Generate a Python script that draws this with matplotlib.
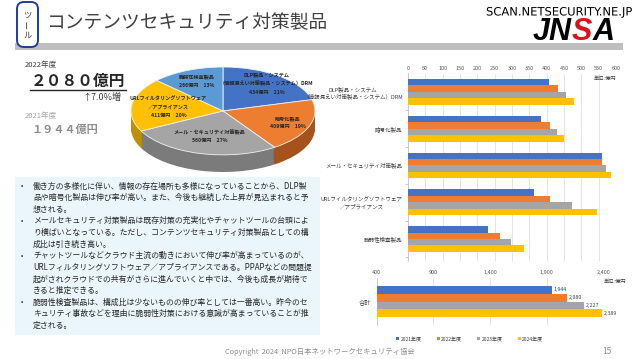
import matplotlib
matplotlib.use("Agg")
import matplotlib.pyplot as plt
import matplotlib.patheffects as pe
from matplotlib.patches import Rectangle, FancyBboxPatch
import numpy as np

plt.rcParams['font.family'] = ['Noto Sans CJK JP', 'DejaVu Sans']

# --- data ---
pie_labels = ["DLP製品・システム\n（情報漏えい対策製品・システム）DRM",
              "暗号化製品",
              "メール・セキュリティ対策製品",
              "URLフィルタリングソフトウェア\n／アプライアンス",
              "脆弱性検査製品"]
pie_values = [434, 409, 560, 411, 266]
pie_pct = ["21%", "19%", "27%", "20%", "13%"]
pie_colors = ["#4472C4", "#ED7D31", "#A5A5A5", "#FFC000", "#5B9BD5"]
pie_side = ["#2F5597", "#A5521B", "#7B7B7B", "#BF9000", "#41719C"]

categories = ["DLP製品・システム\n（情報漏えい対策製品・システム）DRM",
              "暗号化製品",
              "メール・セキュリティ対策製品",
              "URLフィルタリングソフトウェア\n／アプライアンス",
              "脆弱性検査製品"]
years = ["2021年度", "2022年度", "2023年度", "2024年度"]
v2021 = [406, 384, 560, 364, 230]
v2022 = [434, 409, 560, 411, 266]
v2023 = [457, 430, 572, 474, 297]
v2024 = [479, 451, 585, 544, 334]
totals = [1944, 2080, 2227, 2389]
bar_colors = ["#4472C4", "#ED7D31", "#A5A5A5", "#FFC000"]

notes = [
    (True,  "働き方の多様化に伴い、情報の存在場所も多様になっていることから、DLP製"),
    (False, "品や暗号化製品は伸び率が高い。また、今後も継続した上昇が見込まれると予"),
    (False, "想される。"),
    (True,  "メールセキュリティ対策製品は既存対策の充実化やチャットツールの台頭によ"),
    (False, "り横ばいとなっている。ただし、コンテンツセキュリティ対策製品としての構"),
    (False, "成比は引き続き高い。"),
    (True,  "チャットツールなどクラウド主流の動きにおいて伸び率が高まっているのが、"),
    (False, "URLフィルタリングソフトウェア／アプライアンスである。PPAPなどの問題提"),
    (False, "起がされクラウドでの共有がさらに進んでいくと中では、今後も成長が期待で"),
    (False, "きると推定できる。"),
    (True,  "脆弱性検査製品は、構成比は少ないものの伸び率としては一番高い。昨今のセ"),
    (False, "キュリティ事故などを理由に脆弱性対策における意識が高まっていることが推"),
    (False, "定される。"),
]

W, H = 640, 359


def box(x0, y0, x1, y1):
    # pixel box (top-left origin) -> figure fraction rect
    return [x0 / W, 1 - y1 / H, (x1 - x0) / W, (y1 - y0) / H]


fig = plt.figure(figsize=(6.4, 3.59), dpi=100)
bg = fig.add_axes([0, 0, 1, 1])
bg.set_xlim(0, W)
bg.set_ylim(H, 0)
bg.axis('off')

# header
bg.add_patch(Rectangle((15, 43), 608, 7, color="#BFBFBF", lw=0))
bg.add_patch(FancyBboxPatch((17, 2), 21, 45, boxstyle="round,pad=0,rounding_size=7",
                            fc="white", ec="#1F3D9C", lw=1.4))
bg.text(27.5, 15, "ツ", fontsize=6, ha='center', va='center', color="#333333")
bg.text(27.5, 25, "ー", fontsize=6, ha='center', va='center', color="#333333", rotation=90)
bg.text(27.5, 35, "ル", fontsize=6, ha='center', va='center', color="#333333")
bg.text(46, 23, "コンテンツセキュリティ対策製品", fontsize=13.5, ha='left', va='center',
        color="#404040")

j = bg.text(533, 40, "JN", fontsize=22, fontweight='heavy', fontstyle='italic',
            family='Liberation Sans', color="black", va='baseline')
s = bg.annotate("S", xy=(1, 0), xycoords=j, fontsize=22, fontweight='heavy',
                fontstyle='italic', family='Liberation Sans', color="#D7141A",
                va='bottom', ha='left')
bg.annotate("A", xy=(1, 0), xycoords=s, fontsize=22, fontweight='heavy',
            fontstyle='italic', family='Liberation Sans', color="black",
            va='bottom', ha='left')
bg.text(632, 12, "SCAN.NETSECURITY.NE.JP", fontsize=8.3, ha='right', va='center',
        color="black", family='DejaVu Sans',
        path_effects=[pe.withStroke(linewidth=1.5, foreground="white")])

# KPI block
bg.text(25, 65, "2022年度", fontsize=5.5, ha='left', va='center', color="#404040")
bg.text(31, 81, "２０８０億円", fontsize=11.3, fontweight='bold', ha='left', va='center',
        color="#262626")
bg.plot([30, 126], [89.5, 89.5], color="#262626", lw=1)
bg.text(122, 97, "↑7.0%増", fontsize=6.5, ha='right', va='center', color="#404040")
bg.text(25, 116, "2021年度", fontsize=5.5, ha='left', va='center', color="#A6A6A6")
bg.text(32, 129, "１９４４億円", fontsize=8, fontweight='bold', ha='left', va='center',
        color="#8C8C8C")

# notes box
bg.add_patch(Rectangle((15, 177), 305, 158, color="#EAF6FB", lw=0))
for i, (bullet, line) in enumerate(notes):
    y = 186 + i * 11.6
    if bullet:
        bg.text(22, y, "•", fontsize=5, ha='center', va='center', color="#262626")
    bg.text(33, y, line, fontsize=5.7, ha='left', va='center', color="#262626")

# footer
bg.text(320, 352, "Copyright  2024  NPO日本ネットワークセキュリティ協会", fontsize=5.3,
        ha='center', va='center', color="#8C8C8C")
bg.text(607, 352, "15", fontsize=6, ha='center', va='center', color="#8C8C8C")

# pie (tilted with depth)
depth = 0.39
axp = fig.add_axes(box(131, 67, 315, 172))
for d in np.linspace(-depth, -0.02, 14):
    axp.pie(pie_values, colors=pie_side, startangle=90, counterclock=False,
            center=(0, d), radius=1, frame=True, wedgeprops={'lw': 0})
wedges, _ = axp.pie(pie_values, colors=pie_colors, startangle=90, counterclock=False,
                    radius=1, frame=True,
                    wedgeprops={'lw': 0.6, 'edgecolor': '#F2F2F2'})
axp.set_aspect('auto')
axp.set_xlim(-1, 1)
axp.set_ylim(-1 - depth, 1)
axp.axis('off')
label_r = [0.78, 0.75, 0.6, 0.6, 0.73]
for w, lab, val, pct, r in zip(wedges, pie_labels, pie_values, pie_pct, label_r):
    mid = np.deg2rad((w.theta1 + w.theta2) / 2)
    axp.text(r * np.cos(mid), r * np.sin(mid), f"{lab}\n{val}億円　{pct}",
             fontsize=3.7, ha='center', va='center', color="#262626",
             linespacing=1.75, fontweight='bold')

# category bar chart
axb = fig.add_axes(box(408, 73.5, 616, 261))
pos = np.arange(len(categories))
hgt = 0.175
for k, (vals, c) in enumerate(zip([v2021, v2022, v2023, v2024], bar_colors)):
    axb.barh(pos + (k - 1.5) * hgt, vals, height=hgt, color=c, zorder=3)
axb.set_xlim(0, 600)
axb.set_ylim(4.6, -0.5)
axb.set_xticks(np.arange(0, 601, 50))
axb.xaxis.tick_top()
axb.tick_params(axis='x', labelsize=4, colors="#595959", length=0, pad=2)
axb.set_yticks(pos)
axb.set_yticklabels(categories, fontsize=4, color="#404040", multialignment='center')
axb.tick_params(axis='y', length=0, pad=4)
axb.set_yticks(np.arange(0.5, 4.6, 1), minor=True)
axb.tick_params(axis='y', which='minor', length=2, color="#BFBFBF")
axb.grid(axis='x', color="#D9D9D9", lw=0.5, zorder=0)
for sp in ['top', 'right', 'bottom']:
    axb.spines[sp].set_visible(False)
axb.spines['left'].set_color("#BFBFBF")
axb.spines['left'].set_linewidth(0.5)
axb.text(1.0, 0.985, "単位:億円", transform=axb.transAxes, fontsize=3.8,
         ha='right', va='top', color="#404040")

# totals chart
axt = fig.add_axes(box(376.7, 278, 603.3, 325))
for k, (val, c) in enumerate(zip(totals, bar_colors)):
    b = axt.barh([(k - 1.5) * 0.17], [val], height=0.17, color=c, zorder=3,
                 label=years[k])
    axt.bar_label(b, labels=[f"{val:,}"], fontsize=3.8, padding=1.5, color="#404040")
axt.set_xlim(400, 2400)
axt.set_ylim(0.5, -0.5)
axt.set_xticks(np.arange(400, 2401, 500))
axt.set_xticklabels([f"{t:,}" for t in range(400, 2401, 500)])
axt.xaxis.tick_top()
axt.tick_params(axis='x', labelsize=4, colors="#595959", length=0, pad=2)
axt.set_yticks([0])
axt.set_yticklabels(["合計"], fontsize=4.5, color="#404040")
axt.tick_params(axis='y', length=0, pad=4)
axt.grid(axis='x', color="#D9D9D9", lw=0.5, zorder=0)
for sp in ['top', 'right', 'bottom']:
    axt.spines[sp].set_visible(False)
axt.spines['left'].set_color("#BFBFBF")
axt.spines['left'].set_linewidth(0.5)
axt.text(1.0, 0.97, "単位:億円", transform=axt.transAxes, fontsize=3.8,
         ha='left', va='top', color="#404040")
axt.legend(loc='center', bbox_to_anchor=(0.41, -0.3), ncol=4, fontsize=3.6,
           frameon=False, handlelength=0.6, handleheight=0.6, columnspacing=3,
           handletextpad=0.3, labelcolor="#404040")

fig.savefig("out.png", dpi=100)
